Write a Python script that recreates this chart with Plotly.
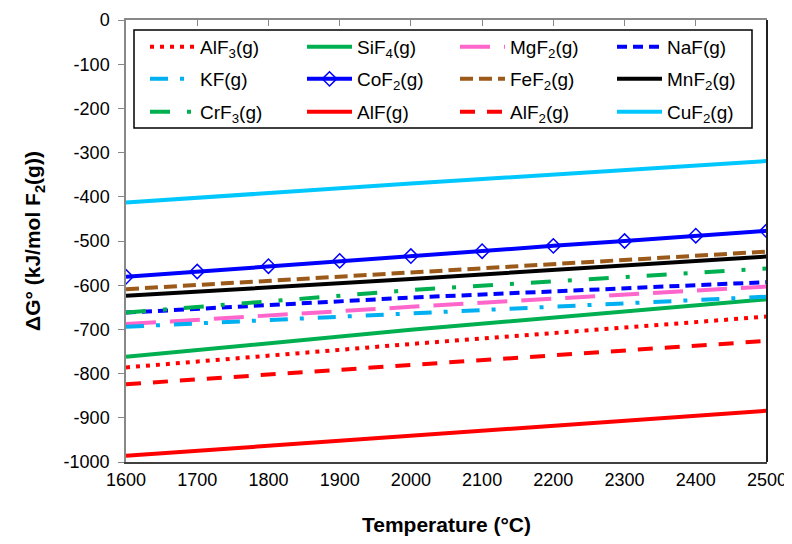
import plotly.graph_objects as go

temps = [1600, 2000, 2500]
temps_co = [1600, 1700, 1800, 1900, 2000, 2100, 2200, 2300, 2400, 2500]

alf3 = [-786, -733, -671]
sif4 = [-762, -701, -632]
mgf2 = [-688, -649, -603]
naf = [-662, -628, -593]
kf = [-694, -663, -626]
cof2 = [-581, -569, -557, -545, -534, -523, -511, -500, -488, -477]
fef2 = [-609, -572, -524]
mnf2 = [-624, -586, -535]
crf3 = [-662, -611, -562]
alf = [-986, -940, -884]
alf2 = [-824, -780, -726]
cuf2 = [-413, -370, -319]

x_ticks = [1600, 1700, 1800, 1900, 2000, 2100, 2200, 2300, 2400, 2500]
y_ticks = [0, -100, -200, -300, -400, -500, -600, -700, -800, -900, -1000]
y_ticktext = [str(v) for v in y_ticks]

FONT = "Liberation Sans, Arial, sans-serif"

series = [
    # name, x, y, color, dash
    ("AlF<sub>3</sub>(g)", temps, alf3, "#FF0000", "4px,6px"),
    ("SiF<sub>4</sub>(g)", temps, sif4, "#00B050", "solid"),
    ("MgF<sub>2</sub>(g)", temps, mgf2, "#FF66CC", "30px,14px"),
    ("NaF(g)", temps, naf, "#0000FF", "10px,6px"),
    ("KF(g)", temps, kf, "#00B0F0", "18px,12px,4px,14px"),
    ("CoF<sub>2</sub>(g)", temps_co, cof2, "#0000FF", "solid"),
    ("FeF<sub>2</sub>(g)", temps, fef2, "#9C5A1A", "13px,6px"),
    ("MnF<sub>2</sub>(g)", temps, mnf2, "#000000", "solid"),
    ("CrF<sub>3</sub>(g)", temps, crf3, "#00B050", "20px,17px,4px,17px"),
    ("AlF(g)", temps, alf, "#FF0000", "solid"),
    ("AlF<sub>2</sub>(g)", temps, alf2, "#FF0000", "15px,12px"),
    ("CuF<sub>2</sub>(g)", temps, cuf2, "#00C8FF", "solid"),
]

# page has an 8px body margin; figure is offset by it
OFF = 8
W, H = 792 - OFF, 544 - OFF
PL, PR, PT, PB = 126, 767, 20, 462  # plot area in page pixels
L, T = PL - OFF, PT - OFF
R = W - (PR - OFF)
B = H - (PB - OFF)
pw, ph = PR - PL, PB - PT

def px_x(p):
    return (p - PL) / pw

def px_y(p):
    return (PB - p) / ph

col_x = [145, 302, 455, 612]
row_y = [47, 79, 112]

fig = go.Figure()
legends = {}
for i, (name, xs, ys, color, dash) in enumerate(series):
    is_co = name.startswith("CoF")
    lid = "legend" if i == 0 else f"legend{i + 1}"
    fig.add_trace(go.Scatter(
        x=xs, y=ys, name=name, legend=lid,
        mode="lines+markers" if is_co else "lines",
        line=dict(color=color, width=4, dash=dash),
        marker=dict(symbol="diamond-open", size=11, color=color,
                    line=dict(color=color, width=1.5)) if is_co else None,
    ))
    legends[lid] = dict(
        x=px_x(col_x[i % 4]), y=px_y(row_y[i // 4]),
        xanchor="left", yanchor="middle", orientation="v",
        itemwidth=45, bgcolor="rgba(0,0,0,0)", borderwidth=0,
        font=dict(family=FONT, size=19, color="#000000"),
    )

# invisible trace for top axis
fig.add_trace(go.Scatter(x=[1600, 2500], y=[0, 0], xaxis="x2", mode="lines",
                         line=dict(width=0), showlegend=False, hoverinfo="skip"))

fig.update_layout(
    width=W, height=H,
    margin=dict(l=L, r=R, t=T, b=B, autoexpand=False),
    paper_bgcolor="white", plot_bgcolor="white",
    font=dict(family=FONT, color="#000000"),
    xaxis=dict(range=[1600, 2500], tickvals=x_ticks, ticks="", showgrid=False,
               zeroline=False, showline=True, linecolor="#404040", linewidth=2,
               tickfont=dict(size=18), ticklabelstandoff=0, automargin=False,
               title=dict(text="<b>Temperature (°C)</b>", font=dict(size=21), standoff=29)),
    xaxis2=dict(range=[1600, 2500], tickvals=x_ticks, overlaying="x", side="top",
                ticks="inside", ticklen=6, tickcolor="#888888", tickwidth=1,
                showticklabels=False, showgrid=False, zeroline=False, automargin=False,
                showline=True, linecolor="#888888", linewidth=1.5),
    yaxis=dict(range=[-1000, 0], tickvals=y_ticks, ticktext=y_ticktext,
               ticks="outside", ticklen=6, automargin=False,
               tickcolor="#888888", showgrid=False, zeroline=False,
               showline=True, linecolor="#888888", linewidth=1.5,
               tickfont=dict(size=18), ticklabelstandoff=5,
               title=dict(text="<b>ΔG° (kJ/mol F<sub>2</sub>(g))</b>", font=dict(size=21), standoff=17)),
    shapes=[
        dict(type="rect", xref="paper", yref="paper", x0=px_x(134), x1=px_x(752),
             y0=px_y(128), y1=px_y(30), line=dict(color="#000000", width=1.5),
             fillcolor="rgba(0,0,0,0)", layer="above"),
        dict(type="line", xref="paper", yref="paper", x0=1, x1=1, y0=0, y1=1,
             line=dict(color="#202020", width=2)),
    ],
    **legends,
)

fig.write_html("out.html")
